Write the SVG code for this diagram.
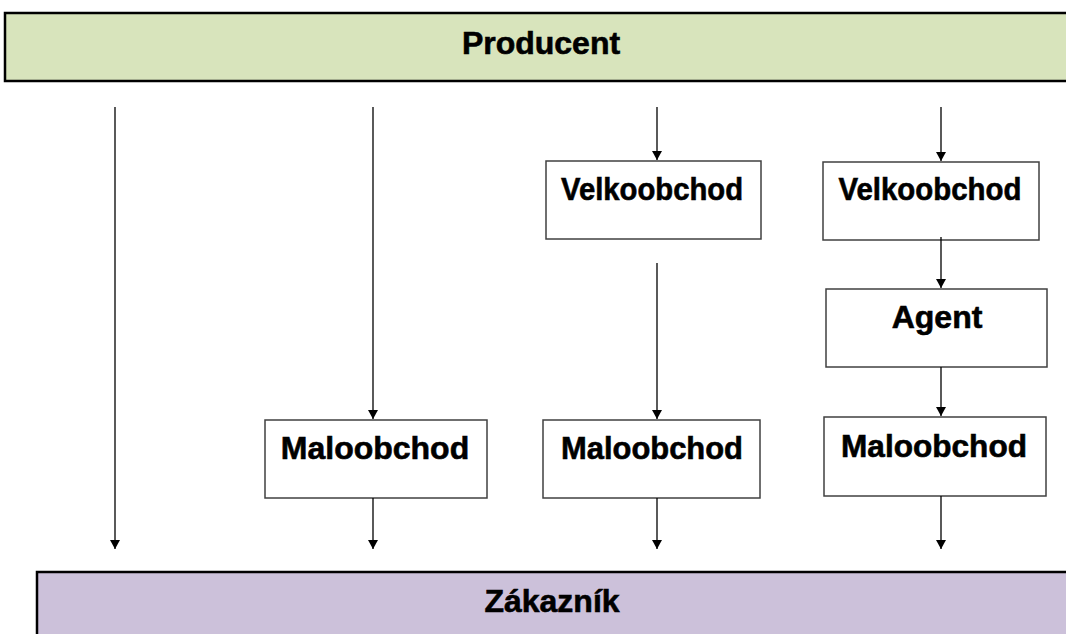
<svg xmlns="http://www.w3.org/2000/svg" width="1066" height="634" viewBox="0 0 1066 634">
<defs>
<style>
.box{fill:#fff;stroke:#404040;stroke-width:1.5}
.lbl{font-family:"Liberation Sans",Arial,sans-serif;font-weight:bold;font-size:32px;fill:#000;stroke:#000;stroke-width:0.6;text-anchor:middle}
.con{stroke:#000;stroke-width:1.3;fill:none;marker-end:url(#ah)}
</style>
<marker id="ah" markerWidth="9" markerHeight="10" refX="9" refY="5" orient="auto" markerUnits="userSpaceOnUse" viewBox="0 0 9 10">
<path d="M0,0 L9,5 L0,10 Z" fill="#000"/>
</marker>
</defs>
<rect width="1066" height="634" fill="#fff"/>
<g id="producent">
<rect x="5" y="13" width="1070" height="68" fill="#d8e4bc" stroke="#000" stroke-width="2.5"/>
<text class="lbl" x="541" y="54">Producent</text>
</g>
<g id="zakaznik">
<rect x="37" y="572" width="1040" height="80" fill="#ccc1da" stroke="#000" stroke-width="2.5"/>
<text class="lbl" x="552" y="612">Zákazník</text>
</g>
<g id="maloobchod1">
<rect class="box" x="265" y="420" width="222" height="78"/>
<text class="lbl" x="375" y="459">Maloobchod</text>
</g>
<g id="velkoobchod1">
<rect class="box" x="546" y="161" width="215" height="78"/>
<text class="lbl" x="652" y="200" textLength="182" lengthAdjust="spacingAndGlyphs">Velkoobchod</text>
</g>
<g id="maloobchod2">
<rect class="box" x="543" y="420" width="217" height="78"/>
<text class="lbl" x="652" y="459" textLength="182" lengthAdjust="spacingAndGlyphs">Maloobchod</text>
</g>
<g id="velkoobchod2">
<rect class="box" x="823" y="162" width="216" height="78"/>
<text class="lbl" x="930" y="200" textLength="183" lengthAdjust="spacingAndGlyphs">Velkoobchod</text>
</g>
<g id="agent">
<rect class="box" x="826" y="289" width="221" height="78"/>
<text class="lbl" x="937" y="328">Agent</text>
</g>
<g id="maloobchod3">
<rect class="box" x="824" y="417" width="222" height="79"/>
<text class="lbl" x="934" y="457" textLength="186" lengthAdjust="spacingAndGlyphs">Maloobchod</text>
</g>
<g id="connectors">
<line class="con" x1="115" y1="107" x2="115" y2="549"/>
<line class="con" x1="373" y1="107" x2="373" y2="419"/>
<line class="con" x1="373" y1="498" x2="373" y2="549"/>
<line class="con" x1="657" y1="107" x2="657" y2="160"/>
<line class="con" x1="657" y1="263" x2="657" y2="419"/>
<line class="con" x1="657" y1="498" x2="657" y2="549"/>
<line class="con" x1="941" y1="107" x2="941" y2="161"/>
<line class="con" x1="941" y1="237" x2="941" y2="288"/>
<line class="con" x1="941" y1="367" x2="941" y2="416"/>
<line class="con" x1="941" y1="496" x2="941" y2="549"/>
</g>
</svg>
